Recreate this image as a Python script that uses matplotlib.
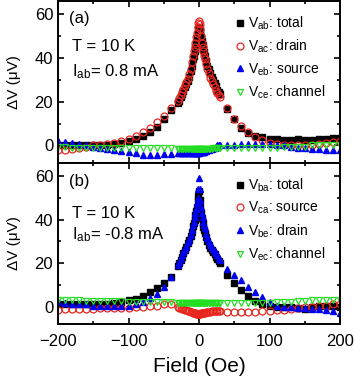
import matplotlib
matplotlib.use("Agg")
import matplotlib.pyplot as plt
from matplotlib.ticker import MultipleLocator

plt.rcParams['font.family'] = ['Liberation Sans', 'DejaVu Sans']
plt.rcParams['mathtext.fontset'] = 'custom'
plt.rcParams['mathtext.rm'] = 'Liberation Sans'
plt.rcParams['mathtext.it'] = 'Liberation Sans'

# ---------------- data ----------------
field = ([-200, -190, -180, -170, -160, -150, -140, -130, -120, -110, -100, -90, -80, -70, -60, -50, -40]
         + [-30, -28, -26, -24, -22, -20, -18, -16, -14, -12, -10, -8]
         + [-7, -6, -5, -4, -3, -2, -1, 0, 1, 2, 3, 4, 5, 6, 7]
         + [8, 10, 12, 14, 16, 18, 20, 22, 24, 26, 28, 30]
         + [40, 50, 60, 70, 80, 90, 100, 110, 120, 130, 140, 150, 160, 170, 180, 190, 200])

# panel (a)
v_ab = ([0, 0, 0, 0, 0, 0, 0, 0, 0.5, 1, 2, 3, 4.5, 6, 8.5, 12, 16]
        + [19.5, 20.5, 22, 23.5, 25, 26.5, 28, 29.5, 31.5, 34, 36.5, 39.5]
        + [41, 43, 45, 47, 49, 51, 53, 54, 53, 51.5, 49.5, 47.5, 46, 44, 42.5]
        + [41, 38.5, 36.5, 35, 33, 31.5, 30, 28.5, 27, 25.5, 24.5, 23.5]
        + [16.5, 12, 8, 5.5, 4.5, 4, 3, 3, 2.5, 2.5, 3, 2.5, 2.5, 3, 3, 3.5, 3.5])
v_ac = ([-2, -2, -1.5, -1, -0.5, 0, 0, 0.5, 1, 2, 3, 4.5, 6, 8, 10.5, 13.5, 17]
        + [20.5, 21.5, 23, 24.5, 26, 27.5, 29, 30.5, 32.5, 35, 38, 41]
        + [43, 45, 47, 49.5, 51.5, 54, 56, 57, 55.5, 53, 50, 47, 45, 43, 41]
        + [39.5, 37, 35, 33, 31, 29.5, 28, 26.5, 25, 24, 23, 22]
        + [17, 12, 9, 6, 4, 2.5, 1, 0.5, 0, 0, 0, 0, 0, 0.5, 1, 1.5, 2])
v_eb = ([2, 1.5, 1, 0.5, 0, -0.5, -1, -1.5, -2, -2.5, -3, -3.5, -4.5, -4.5, -4.5, -4, -4]
        + [-3.5, -3.5, -3.5, -3.5, -3.5, -3.5, -3.5, -3.5, -3.5, -3.5, -3.5, -3.5]
        + [-3.5, -3.5, -3.5, -3.5, -3.5, -3.5, -3.5, -3.5, -3, -3, -3, -3, -3, -3, -3]
        + [-2.5, -2.5, -2, -2, -1.5, -1.5, -1, -1, -0.5, 0, 0, 0]
        + [0, 0, 0.5, 0.5, 0.5, 0.5, 0.5, 0, 0, -0.5, -1, -1, -1.5, -1.5, -2, -2, -2])
v_ce = ([-0.5, -0.5, -1, -1, -1, -1, -1, -1, -1, -1, -1, -1, -1, -1, -1, -1, -1]
        + [-1.5, -1.5, -1.5, -1.5, -1.5, -1.5, -1.5, -1.5, -1.5, -1.5, -1.5, -1.5]
        + [-1.5, -1.5, -1.5, -1.5, -1.5, -1.5, -1.5, -1.5, -1.5, -1.5, -1.5, -1.5, -1.5, -1.5, -1.5]
        + [-1.5, -1.5, -1.5, -1.5, -1.5, -1.5, -1, -1, -1, -1, -1, -1]
        + [-1, -1, -1, -1, -1, -1, -1, -1, -0.5, -0.5, -0.5, -0.5, 0, 0, 0, 0, 0])

# panel (b)
v_ba = ([1, 1, 1, 1, 1, 1, 1, 1, 1.5, 2, 3, 3.5, 5, 6.5, 8.5, 11, 13.5]
        + [18.5, 20, 21.5, 23, 24.5, 26, 27.5, 29, 30.5, 32.5, 34.5, 37]
        + [38.5, 40, 42, 44, 46, 48.5, 51, 53, 49, 46, 43, 40.5, 38.5, 36.5, 35]
        + [34, 32, 30, 28.5, 27, 26, 25, 24, 23, 22, 21, 20]
        + [14.5, 11, 7.5, 5, 2.5, 1, 0.5, 0, 0, 0, -0.5, -1, 0, 0.5, 0.5, 0.5, 0])
v_ca = ([-1.5, -1, -1, -1, -1, -1, -0.5, -0.5, -0.5, -0.5, -0.5, 0, 0, 0.5, 0.5, 1, 1]
        + [0, -0.5, -0.5, -1, -1, -1.5, -1.5, -2, -2, -2.5, -2.5, -3]
        + [-3, -3, -3, -3.5, -3.5, -3.5, -3.5, -3.5, -3.5, -3.5, -3, -3, -3, -3, -3]
        + [-3, -2.5, -2.5, -2.5, -2.5, -2, -2, -2, -2, -2, -2, -2]
        + [-2.5, -2.5, -2.5, -2.5, -2.5, -2, -2, -1.5, -1.5, -1, -0.5, 0, 0, 0.5, 0.5, 1, 1])
v_be = ([2, 1.5, 1, 1, 1, 0.5, 0.5, 0.5, 0.5, 0.5, 0.5, 1, 2, 4, 6, 9, 13.5]
        + [19, 20.5, 22, 23.5, 25, 26.5, 28, 29.5, 31, 33, 35, 37.5]
        + [39, 41, 43, 45, 47.5, 50, 54, 59, 54, 49, 46, 43, 41, 39, 37.5]
        + [36, 33.5, 31.5, 30, 28.5, 27.5, 26.5, 25.5, 24.5, 23.5, 22.5, 21.5]
        + [17.5, 14.5, 12, 9, 6.5, 4.5, 2, 0.5, 0, 0, -0.5, -0.5, -1, -1, -1.5, -2, -3])
v_ec = ([3, 3, 3, 3, 2.5, 2.5, 2.5, 2.5, 2.5, 2.5, 2, 2, 2, 2, 2, 2, 2]
        + [1.5, 1.5, 1.5, 1.5, 1.5, 1.5, 1.5, 1.5, 1.5, 1.5, 1.5, 1.5]
        + [1.5, 1.5, 1.5, 1.5, 1.5, 1.5, 1.5, 1.5, 1.5, 1.5, 1.5, 1.5, 1.5, 1.5, 1.5]
        + [1.5, 1.5, 1.5, 1.5, 1.5, 1.5, 1.5, 1.5, 1.5, 1.5, 1.5, 1.5]
        + [1.5, 1.5, 1.5, 1.5, 1.5, 1.5, 1.5, 2, 2, 2, 2.5, 2.5, 3, 3, 3, 3, 3])

labels_a = ["V$_{ab}$: total", "V$_{ac}$: drain", "V$_{eb}$: source", "V$_{ce}$: channel"]
labels_b = ["V$_{ba}$: total", "V$_{ca}$: source", "V$_{be}$: drain", "V$_{ec}$: channel"]
series_a = [v_ab, v_ac, v_eb, v_ce]
series_b = [v_ba, v_ca, v_be, v_ec]
temp_text = "T = 10 K"
curr_a = "I$_{ab}$= 0.8 mA"
curr_b = "I$_{ab}$= -0.8 mA"

# ---------------- styles ----------------
styles = [
    dict(marker='s', color='black', mfc='black', ms=4.5),
    dict(marker='o', color='#e8261e', mfc='none', ms=5, mew=0.9),
    dict(marker='^', color='#0000ee', mfc='#0000ee', ms=5),
    dict(marker='v', color='#22dd22', mfc='none', ms=5, mew=0.9),
]

fig = plt.figure(figsize=(3.54, 3.79), dpi=100)
L, R = 58 / 354, 340 / 354
ax_a = fig.add_axes([L, 1 - 163 / 379, R - L, 162 / 379])
ax_b = fig.add_axes([L, 1 - 324 / 379, R - L, 161 / 379])

def draw(ax, series, labels, tag, curr, xlabels, ys):
    for y, lab, st in zip(series, labels, styles):
        ax.plot(field, y, linestyle='none', label=lab, **st)
    ax.set_xlim(-200, 200)
    ax.set_ylim(-8, 66)
    ax.xaxis.set_major_locator(MultipleLocator(100))
    ax.xaxis.set_minor_locator(MultipleLocator(50))
    ax.yaxis.set_major_locator(MultipleLocator(20))
    ax.yaxis.set_minor_locator(MultipleLocator(10))
    ax.tick_params(which='both', direction='in', top=True, right=True, width=1.2)
    ax.tick_params(which='major', length=4.5, labelsize=12)
    ax.tick_params(axis='x', which='major', pad=7)
    ax.tick_params(which='minor', length=2.5)
    for s in ax.spines.values():
        s.set_linewidth(1.4)
    if not xlabels:
        ax.tick_params(labelbottom=False)
    ax.set_ylabel("ΔV (μV)", fontsize=11, labelpad=10)
    ax.text(0.04, ys[0], tag, transform=ax.transAxes, fontsize=12, va='center', ha='left')
    ax.text(0.05, ys[1], temp_text, transform=ax.transAxes, fontsize=12, va='center', ha='left')
    ax.text(0.05, ys[2], curr, transform=ax.transAxes, fontsize=12, va='center', ha='left')
    ax.legend(loc='upper left', bbox_to_anchor=(0.62, 0.915), frameon=False, fontsize=10,
              handletextpad=0.1, handlelength=1.0, labelspacing=0.42, borderaxespad=0,
              borderpad=0)

draw(ax_a, series_a, labels_a, "(a)", curr_a, False, (0.89, 0.72, 0.565))
draw(ax_b, series_b, labels_b, "(b)", curr_b, True, (0.885, 0.685, 0.555))
ax_b.set_xlabel("Field (Oe)", fontsize=15, labelpad=6)
fig.align_ylabels([ax_a, ax_b])

fig.savefig("out.png", dpi=100)
